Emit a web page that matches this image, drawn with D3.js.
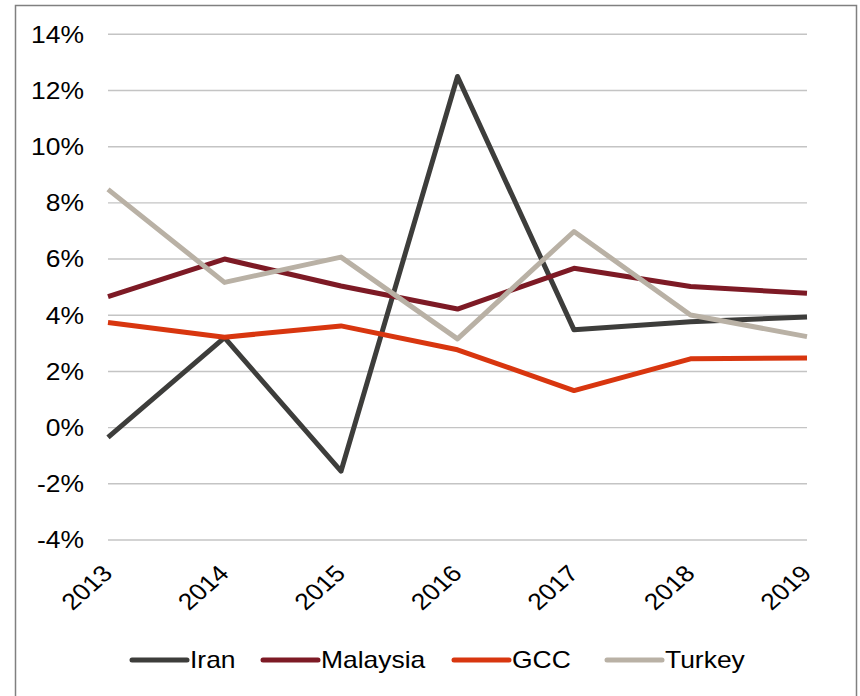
<!DOCTYPE html>
<html>
<head>
<meta charset="utf-8">
<script src="https://cdn.jsdelivr.net/npm/d3@7"></script>
<style>
  html, body { margin: 0; padding: 0; background: #fff; }
  svg { display: block; font-family: "Liberation Sans", Arial, sans-serif; }
</style>
</head>
<body>
<svg id="chart" width="860" height="696"></svg>
<script>
// Annual growth rates, in percent
const years = ["2013", "2014", "2015", "2016", "2017", "2018", "2019"];
const iran     = [-0.35, 3.2, -1.55, 12.5, 3.48, 3.77, 3.94];
const malaysia = [4.66, 6.0, 5.04, 4.22, 5.67, 5.02, 4.78];
const gcc      = [3.74, 3.22, 3.62, 2.77, 1.32, 2.45, 2.48];
const turkey   = [8.48, 5.17, 6.07, 3.16, 6.98, 4.01, 3.24];
const yTicks   = [-4, -2, 0, 2, 4, 6, 8, 10, 12, 14];

const seriesNames  = ["Iran", "Malaysia", "GCC", "Turkey"];
const seriesValues = [iran, malaysia, gcc, turkey];
const seriesColors = ["#3d3d3b", "#7d1a25", "#d8360f", "#b9b1a5"];

const svg = d3.select("#chart");
const sx = 1.15; // horizontal text stretch

const x = d3.scalePoint().domain(years).range([108, 807]).padding(0);
const y = d3.scaleLinear().domain([-4, 14]).range([540, 34.3]);

// outer frame
svg.append("path")
  .attr("d", "M15.5,700 V5.5 H856.5 V700")
  .attr("fill", "none").attr("stroke", "#808080").attr("stroke-width", 1.5);

// horizontal gridlines
svg.append("g").selectAll("line").data(yTicks).join("line")
  .attr("x1", 108).attr("x2", 807)
  .attr("y1", d => y(d)).attr("y2", d => y(d))
  .attr("stroke", "#c4c4c4").attr("stroke-width", 1.4);

// y tick labels
svg.append("g").selectAll("text").data(yTicks).join("text")
  .attr("transform", d => `translate(84,${y(d) + 8.3}) scale(${sx},1)`)
  .attr("text-anchor", "end")
  .attr("font-size", 23).attr("fill", "#000")
  .text(d => d + "%");

// x tick labels, rotated
svg.append("g").selectAll("text").data(years).join("text")
  .attr("transform", d => `translate(${x(d) + 6},${575}) scale(${sx},1) rotate(-45)`)
  .attr("text-anchor", "end")
  .attr("font-size", 23).attr("fill", "#000")
  .text(d => d);

// series lines
const line = d3.line().x((d, i) => x(years[i])).y(d => y(d));
svg.append("g").selectAll("path").data(seriesValues).join("path")
  .attr("d", d => line(d))
  .attr("fill", "none")
  .attr("stroke", (d, i) => seriesColors[i])
  .attr("stroke-width", 5)
  .attr("stroke-linejoin", "round")
  .attr("stroke-linecap", "butt");

// legend
const legendX = [132, 263, 454, 607];
const lg = svg.append("g").selectAll("g").data(seriesNames).join("g")
  .attr("transform", (d, i) => `translate(${legendX[i]},660)`);
lg.append("line")
  .attr("x1", 0).attr("x2", 55).attr("y1", 0).attr("y2", 0)
  .attr("stroke", (d, i) => seriesColors[i])
  .attr("stroke-width", 5).attr("stroke-linecap", "round");
lg.append("text")
  .attr("transform", `translate(58,8.3) scale(${sx},1)`)
  .attr("font-size", 23).attr("fill", "#000")
  .text(d => d);
</script>
</body>
</html>
